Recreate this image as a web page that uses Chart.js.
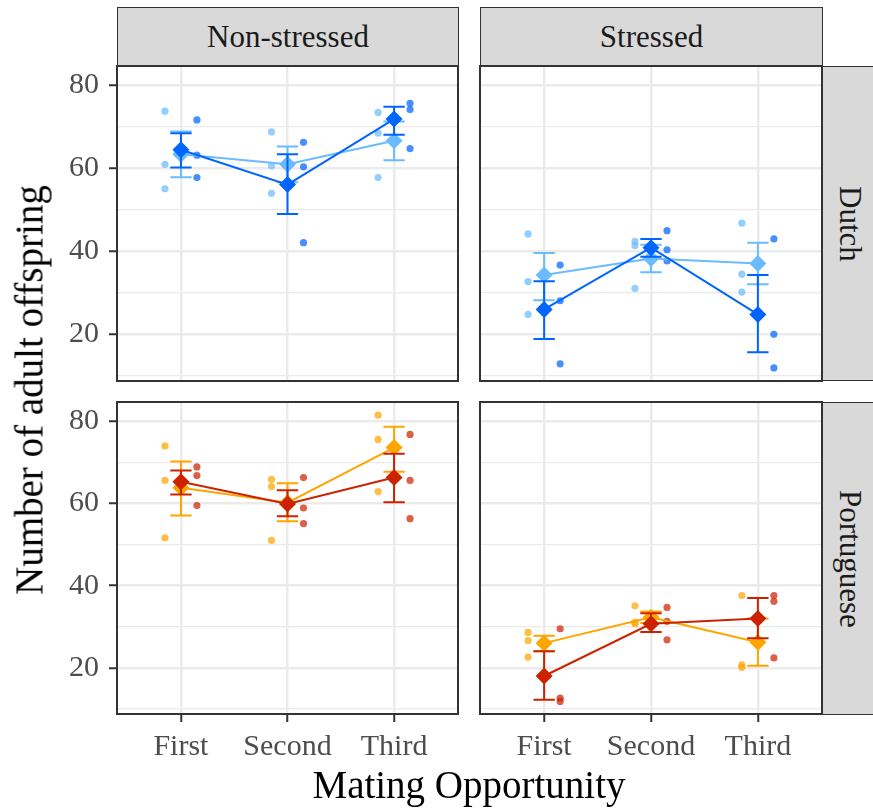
<!DOCTYPE html>
<html>
<head>
<meta charset="utf-8">
<title>Adult offspring by mating opportunity</title>
<script src="https://cdn.jsdelivr.net/npm/chart.js@4.4.0/dist/chart.umd.min.js"></script>
<style>
  html, body { margin: 0; padding: 0; background: #fff; overflow: hidden; }
  body { width: 873px; height: 811px; position: relative; font-family: 'Liberation Serif', serif; }
  canvas { position: absolute; }
  .strip {
    position: absolute; box-sizing: border-box; background: #D9D9D9;
    border: 1.5px solid #333333; color: #1A1A1A; font-size: 31px;
    display: flex; align-items: center; justify-content: center;
  }
  .strip.side { border-right: none; padding-right: 6px; }
  .strip.side span { writing-mode: vertical-rl; }
  .title { position: absolute; white-space: nowrap; font-size: 39px; line-height: 39px; color: #000; }
</style>
</head>
<body>

<div class="strip" style="left:117px; top:7px; width:342px; height:60px;">Non-stressed</div>
<div class="strip" style="left:480px; top:7px; width:343px; height:60px;">Stressed</div>
<div class="strip side" style="left:822px; top:66px; width:60px; height:315px;"><span>Dutch</span></div>
<div class="strip side" style="left:822px; top:402px; width:60px; height:313px;"><span>Portuguese</span></div>

<canvas id="dutchNs" width="460" height="375" style="left:0px; top:36px;"></canvas>
<canvas id="dutchS" width="362" height="375" style="left:470px; top:36px;"></canvas>
<canvas id="portNs" width="460" height="402" style="left:0px; top:372px;"></canvas>
<canvas id="portS" width="362" height="402" style="left:470px; top:372px;"></canvas>

<div class="title" style="left:469px; top:784px; transform:translate(-50%,-50%);">Mating Opportunity</div>
<div class="title" style="left:29px; top:390px; transform:translate(-50%,-50%) rotate(-90deg);">Number of adult offspring</div>

<script>
// --- Axes ---
const categories = ['First', 'Second', 'Third'];
const yTicks = [10, 20, 30, 40, 50, 60, 70, 80];
const yMin = 8.75;
const yMax = 84.7;

// --- Colours ---
const lightBlue = '#6ABBFF';
const darkBlue = '#0064FF';
const orange = '#FFA500';
const darkRed = '#CC2200';

// --- Dutch, Non-stressed ---
const dutchNsLightMean = [63.4, 61.0, 66.7];
const dutchNsLightLo = [57.9, 56.7, 62.0];
const dutchNsLightHi = [68.9, 65.3, 71.3];
const dutchNsLightPts = [[73.8, 61.0, 55.1], [68.8, 60.6, 54.0], [73.5, 68.5, 57.8]];
const dutchNsDarkMean = [64.5, 56.1, 71.9];
const dutchNsDarkLo = [60.2, 49.0, 68.1];
const dutchNsDarkHi = [68.5, 63.4, 74.9];
const dutchNsDarkPts = [[71.7, 63.2, 57.8], [66.3, 60.4, 42.1], [75.7, 74.2, 64.8]];

// --- Dutch, Stressed ---
const dutchSLightMean = [34.3, 38.3, 37.1];
const dutchSLightLo = [28.2, 35.0, 32.1];
const dutchSLightHi = [39.6, 41.6, 42.1];
const dutchSLightPts = [[44.2, 32.7, 24.8], [42.4, 41.4, 31.1], [46.8, 34.5, 30.2]];
const dutchSDarkMean = [26.0, 40.9, 24.8];
const dutchSDarkLo = [18.9, 38.7, 15.7];
const dutchSDarkHi = [32.8, 43.0, 34.3];
const dutchSDarkPts = [[36.7, 28.1, 12.9], [45.0, 40.4, 37.7], [43.0, 20.0, 11.9]];

// --- Portuguese, Non-stressed ---
const portNsLightMean = [63.8, 60.2, 73.6];
const portNsLightLo = [57.1, 55.7, 67.7];
const portNsLightHi = [70.2, 64.9, 78.7];
const portNsLightPts = [[74.0, 65.6, 51.6], [65.9, 64.1, 51.0], [81.5, 75.6, 62.9]];
const portNsDarkMean = [65.3, 59.9, 66.3];
const portNsDarkLo = [62.2, 56.9, 60.3];
const portNsDarkHi = [68.0, 63.2, 72.1];
const portNsDarkPts = [[68.9, 66.8, 59.5], [66.3, 58.9, 55.1], [76.8, 65.6, 56.3]];

// --- Portuguese, Stressed ---
const portSLightMean = [26.0, 32.3, 26.2];
const portSLightLo = [24.0, 30.9, 20.5];
const portSLightHi = [27.8, 33.7, 32.0];
const portSLightPts = [[28.6, 26.6, 22.6], [35.1, 31.1, 30.7], [37.6, 20.7, 20.1]];
const portSDarkMean = [18.0, 30.7, 32.0];
const portSDarkLo = [12.2, 28.7, 27.2];
const portSDarkHi = [24.0, 33.3, 37.0];
const portSDarkPts = [[29.5, 12.6, 11.8], [34.7, 31.3, 26.8], [37.6, 36.2, 22.4]];

const FONT = 'Liberation Serif';
const CAP = 0.1;      // half width of the error bar caps, in x units
const DODGE = 0.15;   // horizontal offset of the raw points

function alpha(hex, a) {
  const n = parseInt(hex.slice(1), 16);
  return `rgba(${(n >> 16) & 255},${(n >> 8) & 255},${n & 255},${a})`;
}

// vertical bar + two caps per category, separated by null gaps
function errorBarData(lo, hi) {
  const out = [];
  categories.forEach((c, i) => {
    const x = i + 1;
    out.push({ x, y: lo[i] }, { x, y: hi[i] }, { x, y: null });
    out.push({ x: x - CAP, y: lo[i] }, { x: x + CAP, y: lo[i] }, { x, y: null });
    out.push({ x: x - CAP, y: hi[i] }, { x: x + CAP, y: hi[i] }, { x, y: null });
  });
  return out;
}

function pointData(pts, dx) {
  const out = [];
  pts.forEach((vals, i) => vals.forEach(v => out.push({ x: i + 1 + dx, y: v })));
  return out;
}

function meanData(mean) {
  return mean.map((v, i) => ({ x: i + 1, y: v }));
}

function seriesDatasets(mean, lo, hi, pts, color, dx, layer) {
  return [
    {
      data: pointData(pts, dx), showLine: false, pointRadius: 3.6,
      pointBackgroundColor: alpha(color, 0.72), pointBorderWidth: 0, order: 20 - layer
    },
    {
      data: errorBarData(lo, hi), showLine: true, spanGaps: false, borderColor: color,
      borderWidth: 2, pointRadius: 0, order: 10 - layer * 2
    },
    {
      data: meanData(mean), showLine: true, borderColor: color, borderWidth: 2,
      pointStyle: 'rectRot', pointRadius: 8.5, pointBackgroundColor: color,
      pointBorderWidth: 0, order: 9 - layer * 2
    }
  ];
}

const panelBorder = {
  id: 'panelBorder',
  afterDraw(chart) {
    const { ctx, chartArea: a } = chart;
    ctx.save();
    ctx.strokeStyle = '#333333';
    ctx.lineWidth = 2;
    ctx.strokeRect(a.left, a.top, a.right - a.left, a.bottom - a.top);
    ctx.restore();
  }
};

const isMajor = c => c.tick && c.tick.value % 20 === 0;

function createPanel(canvasId, datasets, showY, showX) {
  const canvas = document.getElementById(canvasId);
  return new Chart(canvas.getContext('2d'), {
    type: 'scatter',
    data: { datasets },
    plugins: [panelBorder],
    options: {
      responsive: false,
      animation: false,
      events: [],
      layout: {
        autoPadding: false,
        padding: { top: 30, bottom: showX ? 0 : 30, left: showY ? 0 : 10, right: showY ? 2 : 10 }
      },
      plugins: { legend: { display: false }, tooltip: { enabled: false }, title: { display: false } },
      scales: {
        x: {
          type: 'linear', min: 0.4, max: 3.6,
          afterBuildTicks: s => { s.ticks = categories.map((c, i) => ({ value: i + 1 })); },
          afterFit: s => { s.height = showX ? 60 : 0; },
          grid: { color: '#EBEBEB', lineWidth: 2.5, drawTicks: showX, tickLength: 8, tickColor: '#333333', tickWidth: 2 },
          border: { display: false },
          ticks: {
            display: showX, autoSkip: false, maxRotation: 0, padding: 7, color: '#4D4D4D',
            font: { family: FONT, size: 30 },
            callback: v => categories[Math.round(v) - 1]
          }
        },
        y: {
          type: 'linear', min: yMin, max: yMax,
          afterBuildTicks: s => { s.ticks = yTicks.map(v => ({ value: v })); },
          afterFit: s => { s.width = showY ? 117 : 0; },
          grid: {
            color: '#EBEBEB', lineWidth: c => (isMajor(c) ? 2.5 : 1.3),
            drawTicks: showY, tickLength: 8, tickWidth: 2,
            tickColor: c => (isMajor(c) ? '#333333' : 'rgba(0,0,0,0)')
          },
          border: { display: false },
          ticks: {
            display: showY, autoSkip: false, padding: 10, color: '#4D4D4D',
            font: { family: FONT, size: 30 },
            callback: v => (v % 20 === 0 ? String(v) : '')
          }
        }
      }
    }
  });
}

createPanel('dutchNs', [
  ...seriesDatasets(dutchNsLightMean, dutchNsLightLo, dutchNsLightHi, dutchNsLightPts, lightBlue, -DODGE, 0),
  ...seriesDatasets(dutchNsDarkMean, dutchNsDarkLo, dutchNsDarkHi, dutchNsDarkPts, darkBlue, DODGE, 1)
], true, false);

createPanel('dutchS', [
  ...seriesDatasets(dutchSLightMean, dutchSLightLo, dutchSLightHi, dutchSLightPts, lightBlue, -DODGE, 0),
  ...seriesDatasets(dutchSDarkMean, dutchSDarkLo, dutchSDarkHi, dutchSDarkPts, darkBlue, DODGE, 1)
], false, false);

createPanel('portNs', [
  ...seriesDatasets(portNsLightMean, portNsLightLo, portNsLightHi, portNsLightPts, orange, -DODGE, 0),
  ...seriesDatasets(portNsDarkMean, portNsDarkLo, portNsDarkHi, portNsDarkPts, darkRed, DODGE, 1)
], true, true);

createPanel('portS', [
  ...seriesDatasets(portSLightMean, portSLightLo, portSLightHi, portSLightPts, orange, -DODGE, 0),
  ...seriesDatasets(portSDarkMean, portSDarkLo, portSDarkHi, portSDarkPts, darkRed, DODGE, 1)
], false, true);
</script>
</body>
</html>
